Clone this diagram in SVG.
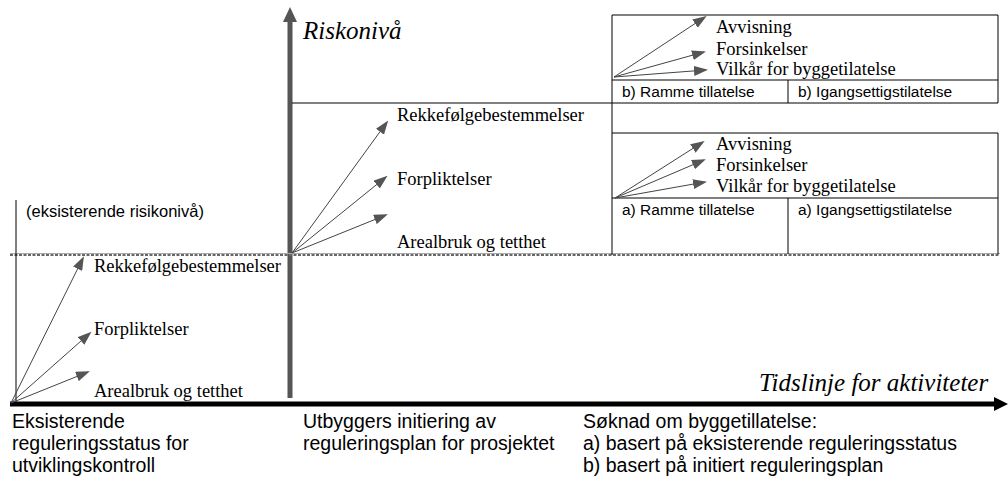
<svg xmlns="http://www.w3.org/2000/svg" width="1008" height="482" viewBox="0 0 1008 482">
<style>
.tr{font-family:"Liberation Serif","Times New Roman",serif;font-size:18.5px;fill:#000}
.ti{font-family:"Liberation Serif","Times New Roman",serif;font-size:25px;font-style:italic;fill:#000}
.ar{font-family:"Liberation Sans",Arial,sans-serif;font-size:15.5px;fill:#000}
.ab{font-family:"Liberation Sans",Arial,sans-serif;font-size:19.5px;fill:#000}
.thin{stroke:#000;stroke-width:1;fill:none}
.conn{stroke:#444;stroke-width:1;fill:none;marker-end:url(#ah)}
</style>
<defs>
<marker id="ah" markerWidth="14" markerHeight="10" refX="12" refY="5" orient="auto" markerUnits="userSpaceOnUse">
<path d="M0,0 L14,5 L0,10 Z" fill="#555"/>
</marker>
</defs>
<rect width="1008" height="482" fill="#fff"/>

<g id="axes">
<line x1="290" y1="20" x2="290" y2="398" stroke="#555" stroke-width="5"/>
<path d="M283,22 L290,7 L297,22 Z" fill="#555"/>
<line x1="10" y1="404" x2="996" y2="404" stroke="#000" stroke-width="5"/>
<path d="M994,397 L1008,404 L994,411 Z" fill="#000"/>
<text class="ti" x="303" y="39">Riskonivå</text>
<text class="ti" x="759" y="391">Tidslinje for aktiviteter</text>
</g>

<g id="levels">
<line x1="10" y1="253.5" x2="1000" y2="253.5" stroke="#aaa" stroke-width="1"/>
<line x1="10" y1="255" x2="1000" y2="255" stroke="#666" stroke-width="2" stroke-dasharray="3 1.5"/>
<line class="thin" x1="16" y1="200" x2="16" y2="404"/>
<line class="thin" x1="292" y1="103" x2="998" y2="103"/>
<text class="ar" x="26" y="217" style="font-size:16.5px">(eksisterende risikonivå)</text>
</g>

<g id="node-existing">
<text class="tr" x="94" y="272">Rekkefølgebestemmelser</text>
<text class="tr" x="94" y="335">Forpliktelser</text>
<text class="tr" x="94" y="397">Arealbruk og tetthet</text>
</g>

<g id="node-initiated">
<text class="tr" x="397" y="121">Rekkefølgebestemmelser</text>
<text class="tr" x="397" y="185">Forpliktelser</text>
<text class="tr" x="397" y="248">Arealbruk og tetthet</text>
</g>

<g id="node-box-b">
<polyline class="thin" points="612,255 612,15 998,15 998,103"/>
<line class="thin" x1="612" y1="80" x2="998" y2="80"/>
<line class="thin" x1="788" y1="80" x2="788" y2="103"/>
<text class="tr" x="716" y="33">Avvisning</text>
<text class="tr" x="716" y="55">Forsinkelser</text>
<text class="tr" x="716" y="75">Vilkår for byggetilatelse</text>
<text class="ar" x="622" y="97">b) Ramme tillatelse</text>
<text class="ar" x="798" y="97">b) Igangsettigstilatelse</text>
</g>

<g id="node-box-a">
<polyline class="thin" points="612,133 998,133 998,254"/>
<line class="thin" x1="612" y1="198" x2="998" y2="198"/>
<line class="thin" x1="788" y1="198" x2="788" y2="254"/>
<text class="tr" x="716" y="150">Avvisning</text>
<text class="tr" x="716" y="171">Forsinkelser</text>
<text class="tr" x="716" y="192">Vilkår for byggetilatelse</text>
<text class="ar" x="622" y="215">a) Ramme tillatelse</text>
<text class="ar" x="798" y="215">a) Igangsettigstilatelse</text>
</g>

<g id="node-bottom">
<text class="ab" x="12" y="428">Eksisterende</text>
<text class="ab" x="12" y="450">reguleringsstatus for</text>
<text class="ab" x="12" y="472">utviklingskontroll</text>
<text class="ab" x="303" y="428">Utbyggers initiering av</text>
<text class="ab" x="303" y="450">reguleringsplan for prosjektet</text>
<text class="ab" x="583" y="428">Søknad om byggetillatelse:</text>
<text class="ab" x="583" y="450">a) basert på eksisterende reguleringsstatus</text>
<text class="ab" x="583" y="472">b) basert på initiert reguleringsplan</text>
</g>

<g id="connectors">
<line class="conn" x1="11" y1="403" x2="83" y2="258"/>
<line class="conn" x1="11" y1="403" x2="90" y2="333"/>
<line class="conn" x1="11" y1="403" x2="88" y2="372"/>
<line class="conn" x1="292" y1="253" x2="387" y2="122"/>
<line class="conn" x1="292" y1="253" x2="386" y2="177"/>
<line class="conn" x1="292" y1="253" x2="386" y2="215"/>
<line class="conn" x1="614" y1="77" x2="705" y2="17"/>
<line class="conn" x1="614" y1="77" x2="704" y2="52"/>
<line class="conn" x1="614" y1="77" x2="706" y2="70"/>
<line class="conn" x1="615" y1="198" x2="703" y2="142"/>
<line class="conn" x1="615" y1="198" x2="704" y2="160"/>
<line class="conn" x1="615" y1="198" x2="705" y2="182"/>
</g>
</svg>
